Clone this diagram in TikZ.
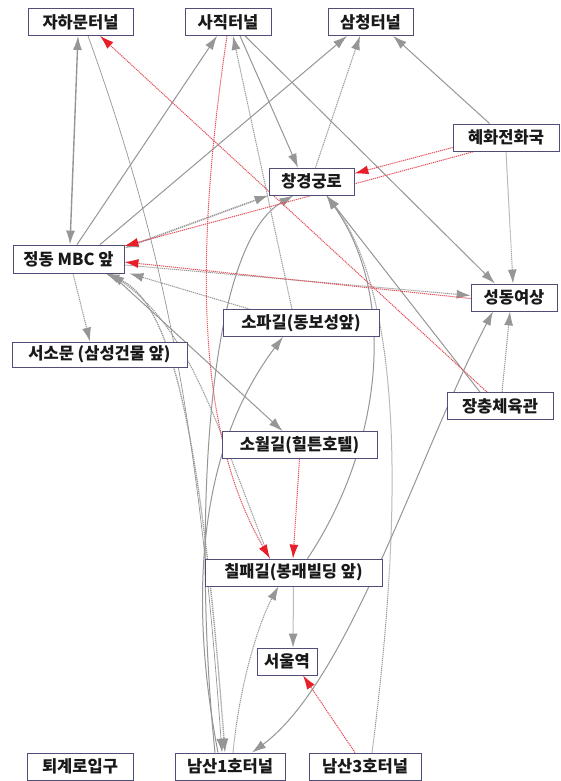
\documentclass[tikz,border=0pt]{standalone}
\usepackage{fontspec}
\newfontfamily\kfont{Noto Sans CJK KR}
\usetikzlibrary{arrows.meta}
\definecolor{boxc}{RGB}{78,78,120}
\definecolor{eg}{RGB}{150,150,150}
\definecolor{er}{RGB}{232,30,40}
\definecolor{erl}{RGB}{228,80,90}
\definecolor{txt}{RGB}{25,25,25}
\pgfdeclarelayer{bg}
\pgfsetlayers{bg,main}
\tikzset{
 box/.style={draw=boxc, fill=white, line width=0.8pt, minimum height=27pt, inner sep=0pt,
   font=\kfont\bfseries\fontsize{16.5}{16.5}\selectfont, text=txt},
 gtip/.tip={Latex[length=14pt,width=9pt,color=eg]},
 rtip/.tip={Latex[length=14pt,width=9pt,color=er]},
 gl/.style={draw=eg, line width=1pt, -gtip},
 gd/.style={draw=eg, line width=1pt, dash pattern=on 1.2pt off 0.8pt, -gtip},
 rd/.style={draw=erl, line width=1pt, dash pattern=on 1.2pt off 0.8pt, -rtip},
}
\begin{document}
\begin{tikzpicture}[x=1pt,y=-1pt]
\useasboundingbox (0,0) rectangle (560,781);
% nodes
\node[box, minimum width=105pt] (jaha) at (80.5,22) {자하문터널};
\node[box, minimum width=86pt] (sajik) at (228,22) {사직터널};
\node[box, minimum width=85pt] (samc) at (370.5,22) {삼청터널};
\node[box, minimum width=106pt] (hyeh) at (506,137.5) {혜화전화국};
\node[box, minimum width=85pt] (chgg) at (311.5,181.5) {창경궁로};
\node[box, minimum width=111pt, minimum height=28pt] (jeong) at (68.5,259) {정동 MBC 앞};
\node[box, minimum width=86pt] (sdys) at (514,297.5) {성동여상};
\node[box, minimum width=156pt] (sopa) at (301,323) {소파길(동보성앞)};
\node[box, minimum width=175pt, minimum height=25pt] (ssm) at (99.5,354.5) {서소문 (삼성건물 앞)};
\node[box, minimum width=155pt] (sowol) at (299.5,445) {소월길(힐튼호텔)};
\node[box, minimum width=106pt] (jcg) at (500,406) {장충체육관};
\node[box, minimum width=177pt] (chp) at (293.5,572.5) {칠패길(봉래빌딩 앞)};
\node[box, minimum width=60pt] (seoul) at (287,661.5) {서울역};
\node[box, minimum width=106pt] (tgr) at (80,766.5) {퇴계로입구};
\node[box, minimum width=110pt] (ns1) at (230,766.5) {남산1호터널};
\node[box, minimum width=112pt] (ns3) at (365,766.5) {남산3호터널};
\begin{pgfonlayer}{bg}
\fill[white] (0,0) rectangle (560,781);
% gray solid
\draw[gl, gtip-gtip, line width=1.4pt] ([xshift=-2.5pt]jaha.south) -- ([xshift=1.5pt]jeong.north);
\draw[gl] ([xshift=8.5pt]jeong.north) -- ([xshift=-11pt]sajik.south);
\draw[gl] ([xshift=31.5pt]jeong.north) -- ([xshift=-23.5pt]samc.south);
\draw[gd, gtip-gtip, line width=1.6pt] ([yshift=11pt]jeong.east) -- (chgg.south west);
\draw[gl] ([xshift=37pt]hyeh.north west) -- ([xshift=22.5pt]samc.south);
\draw[gl] ([xshift=12pt]sajik.south) -- ([xshift=-13.5pt]chgg.north);
\draw[gl] ([xshift=17pt]sajik.south) -- ([xshift=-19pt]sdys.north);
\draw[gl] ([xshift=-14pt]jeong.south east) -- ([xshift=61pt]sowol.north west);
\draw[gl] ([xshift=-20pt]jcg.north) -- ([xshift=15pt]chgg.south);
% gray dotted
\draw[gd] ([xshift=4.5pt]jeong.south) -- ([xshift=-9.5pt]ssm.north);
\draw[gd] ([xshift=27pt]sopa.north west) -- ([xshift=5pt]jeong.south east);
\draw[gd] (hyeh.south) -- ([xshift=-1pt]sdys.north);
\draw[gd] ([xshift=-9pt]sopa.north) -- ([xshift=5pt]sajik.south);
\draw[gd] ([xshift=4pt]chgg.north) -- ([xshift=-10.5pt]samc.south);
\draw[gd] ([xshift=2pt]jcg.north) -- ([xshift=-4pt]sdys.south);
\draw[gd] (chp.south) -- ([xshift=6pt]seoul.north);
\draw[gd] ([yshift=-6pt]jeong.east) -- ([yshift=2pt]sdys.west);
% curves
\draw[gl, line width=0.7pt] ([xshift=7.5pt]jaha.south) .. controls (165,250) and (198,420) .. ([xshift=-8pt]ns1.north);
\draw[gd, gtip-gtip, line width=1.3pt] ([xshift=-19pt]jeong.south east) .. controls (170,300) and (200,420) .. ([xshift=-5pt]ns1.north);
\draw[gd] ([xshift=-24pt]chp.north) .. controls (215,420) and (190,330) .. ([xshift=-14pt]jeong.south east);
\draw[gl] ([xshift=-15pt]ns1.north) .. controls (195,560) and (200,250) .. ([xshift=-18pt]chgg.south);
\draw[gl] ([xshift=-12pt]ns1.north) .. controls (185,580) and (205,440) .. ([xshift=-18pt]sopa.south);
\draw[gl, gtip-gtip] ([xshift=22pt]ns1.north) .. controls (350,680) and (420,450) .. ([xshift=-21pt]sdys.south);
\draw[gd] ([xshift=7pt]ns3.north) .. controls (402,520) and (405,300) .. ([xshift=15pt]chgg.south);
\draw[gl] ([xshift=14pt]chp.north) .. controls (380,450) and (400,300) .. ([xshift=15pt]chgg.south);
\draw[gd] ([xshift=3pt]ns1.north) .. controls (240,680) and (260,620) .. ([xshift=-15pt]chp.south);
% red
\draw[rd] ([xshift=-13pt]jcg.north) -- ([xshift=19.5pt]jaha.south);
\draw[rd] ([xshift=22pt]hyeh.south west) -- ([yshift=13pt]jeong.east);
\draw[rd] ([yshift=-10pt]hyeh.west) -- ([yshift=8pt]chgg.east);
\draw[rd] ([yshift=-1pt]sdys.west) -- ([yshift=-3pt]jeong.east);
\draw[rd] ([xshift=-1pt]sajik.south) .. controls (195,250) and (195,430) .. ([xshift=-23.5pt]chp.north);
\draw[rd] (sowol.south) -- ([xshift=-0.5pt]chp.north);
\draw[rd] ([xshift=-10pt]ns3.north) -- ([xshift=16pt]seoul.south);
\end{pgfonlayer}
\end{tikzpicture}
\end{document}
